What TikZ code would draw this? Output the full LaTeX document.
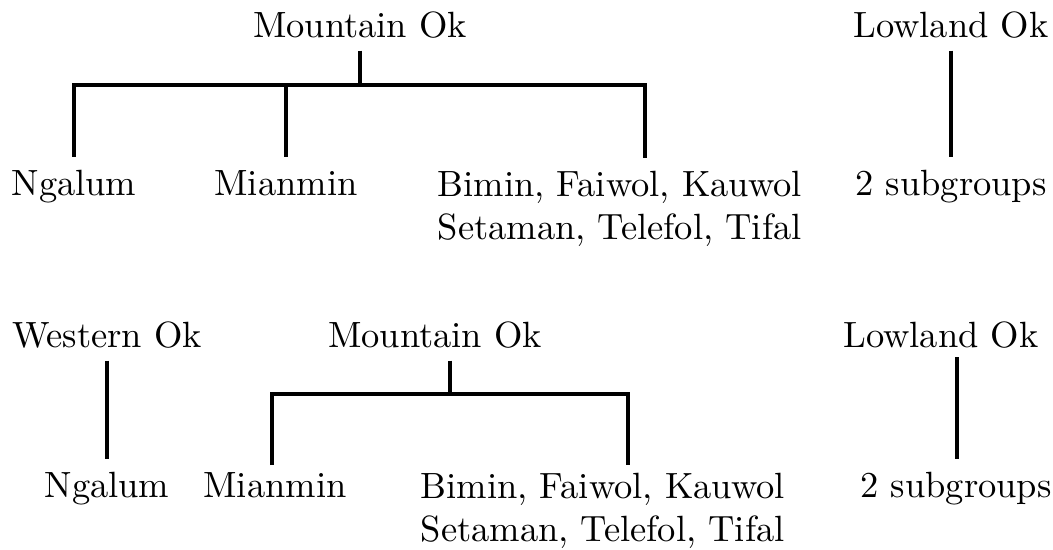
\documentclass[tikz,border=0pt]{standalone}
\usepackage{tikz}
\usetikzlibrary{positioning}

\begin{document}
\begin{tikzpicture}[x=0.274pt, y=-0.274pt,
    lang/.style={anchor=base},
    langs/.style={anchor=north west, inner sep=0pt, align=left},
    branch/.style={line width=1.1pt}]
    \useasboundingbox (0,0) rectangle (1053,550);
    % first tree
    \node[lang] (mok) at (360,37) {Mountain Ok};
    \node[lang] (lok) at (951,37) {Lowland Ok};
    \node[lang] (ngalum) at (74,195) {Ngalum};
    \node[lang] (mianmin) at (286,195) {Mianmin};
    \node[langs] (bimin) at (437,170) {Bimin, Faiwol, Kauwol\\Setaman, Telefol, Tifal};
    \node[lang] (sub) at (951,195) {2 subgroups};
    \coordinate (bar) at (360,85);
    \coordinate (binend) at (645,158);
    \draw[branch] (mok.south) -- (bar);
    \draw[branch] (ngalum.north) |- (binend |- bar) -- (binend);
    \draw[branch] (mianmin.north |- bar) -- (mianmin.north);
    \draw[branch] (lok.south) -- (sub.north);
    % second tree
    \node[lang] (wok) at (107,347) {Western Ok};
    \node[lang] (mok2) at (435,347) {Mountain Ok};
    \node[lang] (lok2) at (941,347) {Lowland Ok};
    \node[lang] (ngalum2) at (107,497) {Ngalum};
    \node[lang] (mianmin2) at (275,497) {Mianmin};
    \node[langs] (bimin2) at (420,472) {Bimin, Faiwol, Kauwol\\Setaman, Telefol, Tifal};
    \node[lang] (sub2) at (956,497) {2 subgroups};
    \coordinate (bar2) at (450,394);
    \coordinate (mianend) at (272,465);
    \coordinate (binend2) at (628,465);
    \coordinate (lowtop) at (957,357);
    \draw[branch] (wok.south) -- (ngalum2.north);
    \draw[branch] (mok2.south -| bar2) -- (bar2);
    \draw[branch] (mianend) |- (bar2) -| (binend2);
    \draw[branch] (lowtop) -- (lowtop |- sub2.north);
\end{tikzpicture}
\end{document}
